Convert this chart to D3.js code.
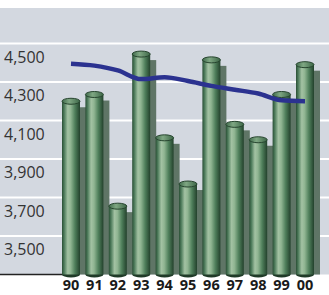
<!DOCTYPE html>
<html>
<head>
<meta charset="utf-8">
<script src="https://cdn.jsdelivr.net/npm/d3@7"></script>
<style>
  html, body { margin: 0; padding: 0; background: #fff; }
  svg { display: block; }
  .ylab { font-family: "Open Sans", sans-serif; font-size: 16px; fill: #333; }
  .xlab { font-family: "Open Sans", sans-serif; font-size: 14.5px; font-weight: bold; fill: #1a1a1a; }
</style>
</head>
<body>
<div id="chart"></div>
<script>
// Cylinder bars with an average line.
const YEARS = ["90", "91", "92", "93", "94", "95", "96", "97", "98", "99", "00"];
const BARS = [4200, 4235, 3655, 4445, 4010, 3770, 4415, 4080, 4000, 4235, 4390];
const LINE = [4395, 4385, 4360, 4315, 4325, 4305, 4280, 4260, 4240, 4205, 4200];
const TICKS = [3500, 3700, 3900, 4100, 4300, 4500];

const width = 329, height = 295;
const svg = d3.select("#chart").append("svg").attr("width", width).attr("height", height);

const x = d3.scalePoint().domain(YEARS).range([71, 305]);
const y = d3.scaleLinear().domain([3300, 4500]).range([274.5, 43.5]);
const barW = 18, ry = 3;

const defs = svg.append("defs");
const g1 = defs.append("linearGradient").attr("id", "cyl").attr("x1", 0).attr("x2", 1).attr("y1", 0).attr("y2", 0);
[["0%", "#2a4f35"], ["12%", "#4c7a5a"], ["32%", "#a3c2a3"], ["48%", "#90b592"], ["72%", "#4f7f5b"], ["100%", "#23412c"]]
  .forEach(([o, c]) => g1.append("stop").attr("offset", o).attr("stop-color", c));
const g2 = defs.append("linearGradient").attr("id", "cap").attr("x1", 0).attr("x2", 1).attr("y1", 0).attr("y2", 0);
[["0%", "#3f6a4b"], ["40%", "#7fa783"], ["100%", "#3c6647"]]
  .forEach(([o, c]) => g2.append("stop").attr("offset", o).attr("stop-color", c));

// panel
svg.append("rect").attr("x", 0).attr("y", 8).attr("width", width).attr("height", y(3300) - 8).attr("fill", "#d3d8e0");
svg.append("line").attr("x1", 0).attr("x2", 64).attr("y1", y(3300)).attr("y2", y(3300))
  .attr("stroke", "#222").attr("stroke-width", 1.5);

// grid
svg.selectAll(".grid").data(TICKS).join("line").attr("class", "grid")
  .attr("x1", 0).attr("x2", width).attr("y1", d => y(d)).attr("y2", d => y(d))
  .attr("stroke", "#fff").attr("stroke-width", 2);
svg.selectAll(".ylab").data(TICKS).join("text").attr("class", "ylab")
  .attr("x", 4).attr("y", d => y(d) + 19).text(d3.format(","));

// shadows
svg.selectAll(".shadow").data(BARS).join("rect").attr("class", "shadow")
  .attr("x", (d, i) => x(YEARS[i]) + barW / 2 - 2).attr("width", 8)
  .attr("y", d => y(d) + 6).attr("height", d => y(3300) - y(d) - 6)
  .attr("fill", "#5f7566");

// cylinders
const bars = svg.selectAll(".bar").data(BARS).join("g").attr("class", "bar");
bars.append("ellipse").attr("cx", (d, i) => x(YEARS[i])).attr("cy", y(3300))
  .attr("rx", barW / 2).attr("ry", ry).attr("fill", "#1f3a27");
bars.append("rect").attr("x", (d, i) => x(YEARS[i]) - barW / 2).attr("width", barW)
  .attr("y", d => y(d)).attr("height", d => y(3300) - y(d)).attr("fill", "url(#cyl)");
bars.append("ellipse").attr("cx", (d, i) => x(YEARS[i])).attr("cy", d => y(d))
  .attr("rx", barW / 2).attr("ry", ry).attr("fill", "url(#cap)")
  .attr("stroke", "#27452f").attr("stroke-width", 1);

// line
svg.append("path").datum(LINE)
  .attr("d", d3.line().x((d, i) => x(YEARS[i])).y(d => y(d)).curve(d3.curveMonotoneX))
  .attr("fill", "none").attr("stroke", "#2b3290").attr("stroke-width", 4.5);

// x labels
svg.selectAll(".xlab").data(YEARS).join("text").attr("class", "xlab")
  .attr("x", d => x(d)).attr("y", 290).attr("text-anchor", "middle").text(d => d);
</script>
</body>
</html>
